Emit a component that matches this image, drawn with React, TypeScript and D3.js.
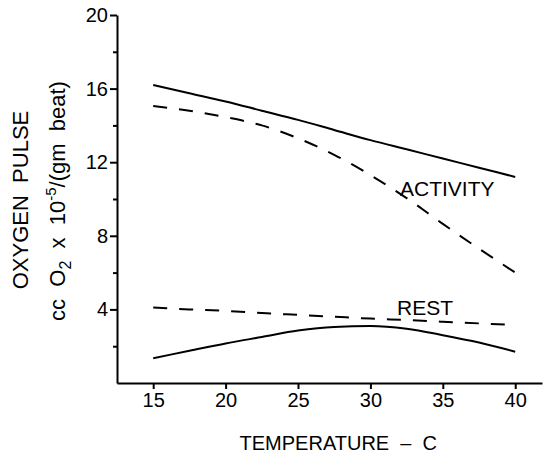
import React, { useEffect, useRef } from 'react';
import * as d3 from 'd3';

// temperature (C) where each curve was read
const temps = [15, 17.5, 20, 22.5, 25, 27.5, 30, 32.5, 35, 37.5, 40];

// oxygen pulse, cc O2 x 10^-5 / (gm beat)
const activitySolid = [16.2, 15.75, 15.3, 14.8, 14.3, 13.75, 13.2, 12.7, 12.2, 11.7, 11.2];
const activityDashed = [15.05, 14.8, 14.45, 14.0, 13.3, 12.4, 11.3, 10.05, 8.65, 7.3, 6.0];
const restDashed = [4.1, 4.0, 3.92, 3.8, 3.7, 3.6, 3.5, 3.42, 3.33, 3.24, 3.15];
const restSolid = [1.35, 1.75, 2.15, 2.5, 2.85, 3.05, 3.1, 2.95, 2.6, 2.2, 1.7];

const xTicks = [15, 20, 25, 30, 35, 40];
const yMajorTicks = [4, 8, 12, 16, 20];
const yMinorTicks = [2, 6, 10, 14, 18];

const FONT = '"Liberation Sans", Arial, Helvetica, sans-serif';

const App: React.FC = () => {
  const svgRef = useRef<SVGSVGElement>(null);

  useEffect(() => {
    if (!svgRef.current) return;
    const svg = d3.select(svgRef.current);
    svg.selectAll('*').remove();

    const x = d3.scaleLinear().domain([12.5, 41.85]).range([117, 542]);
    const y = d3.scaleLinear().domain([0, 20]).range([383, 15]);

    // axes
    const yAxis = svg.append('g').attr('transform', 'translate(117,0)')
      .call(d3.axisLeft(y).tickValues(yMajorTicks).tickSize(7).tickSizeOuter(0).tickPadding(2));
    svg.append('g').attr('transform', 'translate(117,0)')
      .call(d3.axisLeft(y).tickValues(yMinorTicks).tickSize(4).tickFormat(() => ''))
      .select('.domain').remove();
    const xAxis = svg.append('g').attr('transform', 'translate(0,383)')
      .call(d3.axisBottom(x).tickValues(xTicks).tickSize(6).tickSizeOuter(0).tickPadding(4));

    svg.selectAll('.domain, .tick line').attr('stroke', '#000').attr('stroke-width', 2);
    yAxis.selectAll('text').style('font-family', FONT).style('font-size', '20px').attr('fill', '#000');
    xAxis.selectAll('text').style('font-family', FONT).style('font-size', '20px').attr('fill', '#000');

    const line = d3.line<number>()
      .x((_, i) => x(temps[i]))
      .y(d => y(d))
      .curve(d3.curveMonotoneX);

    const series: [number[], string | null][] = [
      [activitySolid, null],
      [activityDashed, '14,12'],
      [restDashed, '14,12'],
      [restSolid, null],
    ];
    series.forEach(([vals, dash]) => {
      svg.append('path')
        .datum(vals)
        .attr('d', line)
        .attr('fill', 'none')
        .attr('stroke', '#000')
        .attr('stroke-width', 2)
        .attr('stroke-dasharray', dash);
    });

    // curve labels
    svg.append('text').attr('x', 400).attr('y', 196)
      .style('font-family', FONT).style('font-size', '21px').text('ACTIVITY');
    svg.append('text').attr('x', 397).attr('y', 315)
      .style('font-family', FONT).style('font-size', '21px').text('REST');

    // x axis title
    svg.append('text').attr('x', 437).attr('y', 450).attr('text-anchor', 'end')
      .style('font-family', FONT).style('font-size', '20px').style('white-space', 'pre')
      .text('TEMPERATURE  \u2013  C');

    // y axis title, two lines
    svg.append('text').attr('transform', 'translate(28,200) rotate(-90)').attr('text-anchor', 'middle')
      .style('font-family', FONT).style('font-size', '22px').style('white-space', 'pre')
      .text('OXYGEN  PULSE');

    const t2 = svg.append('text').attr('transform', 'translate(65,201) rotate(-90)').attr('text-anchor', 'middle')
      .style('font-family', FONT).style('font-size', '22px').style('white-space', 'pre');
    t2.append('tspan').text('cc  O');
    t2.append('tspan').attr('dy', 6).style('font-size', '16px').text('2');
    t2.append('tspan').attr('dy', -6).text('  x  10');
    t2.append('tspan').attr('dy', -9).style('font-size', '15px').text('-5');
    t2.append('tspan').attr('dy', 9).text('/(gm  beat)');
  }, []);

  return (
    <div style={{ position: 'fixed', left: 0, top: 0 }}>
      <svg ref={svgRef} width={544} height={463} style={{ display: 'block', background: '#fff' }} />
    </div>
  );
};

export default App;
